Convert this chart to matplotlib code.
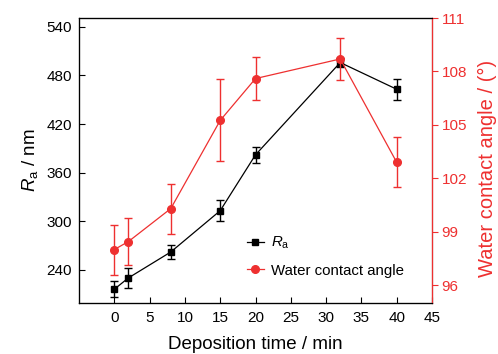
import matplotlib
matplotlib.use("Agg")
import matplotlib.pyplot as plt
from matplotlib.lines import Line2D

plt.rcParams['font.family'] = ['Liberation Sans', 'DejaVu Sans']
plt.rcParams['mathtext.fontset'] = 'custom'
plt.rcParams['mathtext.it'] = 'Liberation Sans:italic'
plt.rcParams['mathtext.rm'] = 'Liberation Sans'

time_min = [0, 2, 8, 15, 20, 32, 40]
ra_nm = [216, 230, 262, 313, 382, 496, 463]
ra_err = [10, 12, 9, 13, 10, 6, 13]
wca_deg = [98.0, 98.45, 100.3, 105.25, 107.6, 108.7, 102.9]
wca_err = [1.4, 1.3, 1.4, 2.3, 1.2, 1.2, 1.4]

red = '#ee3030'

fig = plt.figure(figsize=(4.98, 3.54), dpi=100)
ax = fig.add_axes([79/498, 1-303/354, (432-79)/498, (303-18)/354])
ax2 = ax.twinx()

ax.errorbar(time_min, ra_nm, yerr=ra_err, color='black', marker='s', ms=5,
            lw=0.9, elinewidth=1.0, capsize=3, capthick=1.0, zorder=3)
ax2.errorbar(time_min, wca_deg, yerr=wca_err, color=red, marker='o', ms=5.5,
             lw=0.9, elinewidth=1.0, capsize=3, capthick=1.0, zorder=2)

ax.set_xlim(-5, 45)
ax.set_ylim(199, 551)
ax2.set_ylim(95, 111)
ax.set_xticks([0, 5, 10, 15, 20, 25, 30, 35, 40, 45])
ax.set_yticks([240, 300, 360, 420, 480, 540])
ax2.set_yticks([96, 99, 102, 105, 108, 111])

ax.tick_params(axis='x', direction='in', length=4, labelsize=11, pad=6)
ax.tick_params(axis='y', direction='in', length=4, labelsize=11, pad=5)
ax2.tick_params(axis='y', direction='out', length=4, labelsize=11, colors=red, pad=3)
ax2.spines['right'].set_color(red)
for sp in ['left', 'top', 'bottom']:
    ax.spines[sp].set_linewidth(0.9)
ax2.spines['right'].set_linewidth(0.9)

ax.set_xlabel('Deposition time / min', fontsize=13.5, labelpad=8)
ax.set_ylabel(r'$R_{\mathrm{a}}$ / nm', fontsize=13.5, labelpad=5)
ax2.set_ylabel('Water contact angle / (°)', fontsize=14.5, color=red)
ax2.yaxis.set_label_coords(1.130, 0.472)

handles = [Line2D([], [], color='black', marker='s', ms=5, lw=0.9),
           Line2D([], [], color=red, marker='o', ms=5.5, lw=0.9)]
ax.legend(handles, [r'$R_{\mathrm{a}}$', 'Water contact angle'], loc='upper left',
          bbox_to_anchor=(0.476, 0.239), frameon=False, fontsize=10.8,
          borderaxespad=0, borderpad=0,
          handlelength=1.1, handletextpad=0.5, labelspacing=0.82)

fig.savefig('out.png', dpi=100)
